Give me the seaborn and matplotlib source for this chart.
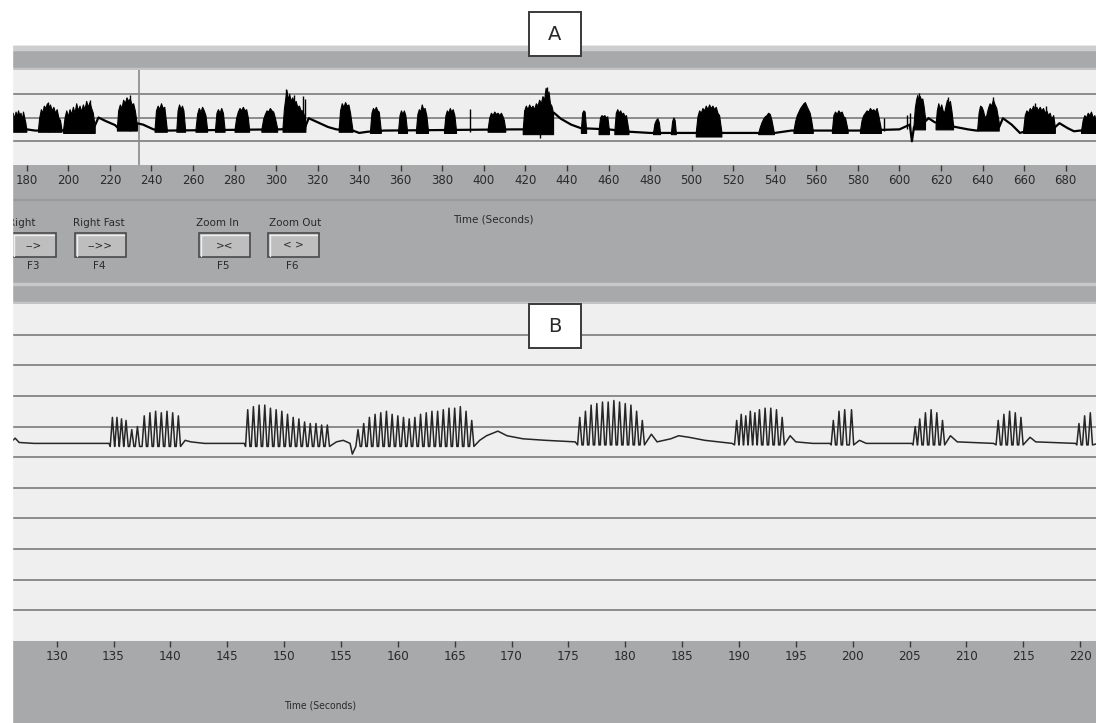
import matplotlib.pyplot as plt
from matplotlib.patches import Rectangle
import pandas as pd
import seaborn as sns

# ---- panel A: slow trace (seconds, level) ----
a_base_t = [172.7, 180, 184, 197, 212.5, 214.5, 218, 222.5, 224, 233.5, 236, 241, 248, 300, 302, 314,
            315.7, 320, 325, 329, 337, 340, 344, 352, 415, 420, 433.7, 437, 442, 446.7, 460, 470, 480,
            500, 515, 530, 540, 548, 560, 567, 580, 600, 605, 606, 607, 612, 614, 617, 627, 633, 637,
            648, 649.8, 654, 658, 660, 675, 677, 681, 684, 687, 695]
a_base_y = [1.5, 1.5, 1.45, 1.45, 1.6, 2.0, 1.85, 1.68, 1.55, 1.75, 1.7, 1.5, 1.45, 1.5, 1.5, 1.6,
            1.97, 1.8, 1.6, 1.5, 1.45, 1.35, 1.4, 1.45, 1.5, 1.5, 2.2, 1.95, 1.7, 1.55, 1.5, 1.4, 1.35,
            1.35, 1.35, 1.35, 1.35, 1.45, 1.45, 1.45, 1.45, 1.5, 1.7, 1.0, 1.6, 1.8, 1.97, 1.8, 1.6, 1.5, 1.45,
            1.6, 1.97, 1.7, 1.35, 1.4, 1.6, 1.76, 1.55, 1.42, 1.45, 1.45]

# bursts: envelope times, envelope tops, bottom level
a_burst_t = [
    [172.7, 173.3, 174, 174.6, 175.2, 175.8, 176.4, 177, 177.6, 178.2, 178.8, 179.3, 179.8],
    [185.4, 186, 186.8, 187.5, 188.2, 189, 189.7, 190.4, 191.2, 192, 192.8, 193.6, 194.4, 195.2, 196, 196.7],
    [197.5, 198.2, 199, 199.8, 200.6, 201.4, 202.2, 203, 203.8, 204.6, 205.4, 206.2, 207, 207.8, 208.6,
     209.4, 210.2, 211, 211.8, 212.7],
    [223.4, 224, 224.8, 225.6, 226.4, 227.2, 228, 228.8, 229.6, 230.4, 231.2, 232, 233],
    [241.5, 242.2, 243, 243.8, 244.6, 245.4, 246.2, 247.4],
    [252, 252.6, 253.3, 254, 254.7, 255.4, 256.2],
    [261.2, 262, 262.8, 263.6, 264.4, 265.2, 266, 266.8],
    [270.6, 271.3, 272, 272.8, 273.6, 274.4, 275.2],
    [280, 280.8, 281.6, 282.4, 283.2, 284, 284.8, 285.6, 286.4, 287],
    [292.9, 293.8, 294.6, 295.4, 296.2, 297, 297.8, 298.6, 299.4, 300.5],
    [303.1, 303.8, 304.4, 305, 305.6, 306.3, 307, 307.8, 308.6, 309.4, 310.2, 311, 311.8, 312.6, 313.4, 314.1],
    [330.1, 330.8, 331.6, 332.4, 333.2, 334, 334.8, 335.6, 336.8],
    [345.2, 345.9, 346.6, 347.3, 348, 348.7, 349.4, 350.4],
    [358.7, 359.4, 360.1, 360.8, 361.5, 362.2, 363],
    [367.3, 368, 368.7, 369.4, 370.1, 370.8, 371.5, 372.3, 373.1],
    [380.8, 381.5, 382.2, 382.9, 383.6, 384.3, 385, 385.8, 386.6],
    [401.8, 402.6, 403.4, 404.2, 405, 405.8, 406.6, 407.4, 408.2, 409, 409.6, 410.3],
    [418.7, 419.4, 420.2, 421, 421.8, 422.6, 423.4, 424.2, 425, 425.8, 426.6, 427.4, 428.2, 429, 429.7,
     430.4, 431.1, 431.8, 432.5, 433.3],
    [446.7, 447.3, 447.9, 448.5, 449.2],
    [455.2, 455.9, 456.6, 457.3, 458, 458.7, 459.4, 460.2],
    [462.8, 463.5, 464.2, 464.9, 465.6, 466.3, 467, 467.7, 468.4, 469.6],
    [481.4, 482.1, 482.8, 483.5, 484.2, 484.8],
    [490, 490.6, 491.2, 491.8, 492.4],
    [502, 502.8, 503.6, 504.4, 505.2, 506, 506.8, 507.6, 508.4, 509.2, 510, 510.8, 511.6, 512.4, 513.2, 514.3],
    [532, 532.8, 533.6, 534.4, 535.2, 536, 536.8, 537.6, 538.4, 539.6],
    [549, 549.8, 550.6, 551.4, 552.2, 553, 553.8, 554.5, 555.2, 556, 556.8, 557.5, 558.3],
    [567.5, 568.2, 569, 569.8, 570.6, 571.4, 572.2, 573, 573.8, 575.1],
    [581, 581.8, 582.6, 583.4, 584.2, 585, 585.8, 586.6, 587.4, 588.2, 589, 589.8, 591.1],
    [606.8, 607.4, 608, 608.6, 609.2, 609.8, 610.4, 611, 611.6, 612.3],
    [617.4, 618, 618.7, 619.4, 620.1, 620.8, 621.5, 622.2, 622.9, 623.6, 624.3, 625, 625.8],
    [637.4, 638.1, 638.8, 639.5, 640.2, 641, 641.8, 642.6, 643.4, 644.2, 645, 645.8, 646.6, 647.8],
    [659.5, 660.3, 661.1, 661.9, 662.7, 663.5, 664.3, 665.1, 665.9, 666.7, 667.5, 668.3, 669.1, 669.9,
     670.7, 671.5, 672.3, 673.1, 674, 674.8],
    [687.4, 688.2, 689, 689.8, 690.6, 691.4, 692.2, 693, 693.8, 694.6],
]
a_burst_top = [
    [2.0, 2.2, 1.95, 2.25, 2.05, 2.3, 2.1, 2.2, 1.9, 2.25, 2.0, 1.8, 1.5],
    [1.5, 2.0, 2.35, 2.2, 2.5, 2.4, 2.6, 2.45, 2.55, 2.3, 2.45, 2.2, 2.35, 2.0, 1.9, 1.5],
    [1.5, 2.0, 2.3, 2.05, 2.35, 2.15, 2.45, 2.2, 2.6, 2.3, 2.5, 2.25, 2.55, 2.35, 2.7, 2.45, 2.65, 2.4, 2.2, 1.6],
    [1.6, 2.3, 2.55, 2.4, 2.75, 2.6, 2.85, 2.7, 2.8, 2.55, 2.6, 2.3, 1.7],
    [1.5, 2.3, 2.5, 2.35, 2.6, 2.4, 2.45, 1.5],
    [1.5, 2.3, 2.55, 2.35, 2.5, 2.3, 1.5],
    [1.5, 2.15, 2.4, 2.25, 2.45, 2.3, 2.1, 1.5],
    [1.5, 2.2, 2.35, 2.2, 2.4, 2.2, 1.5],
    [1.5, 2.0, 2.25, 2.4, 2.3, 2.45, 2.3, 2.35, 2.0, 1.5],
    [1.5, 1.95, 2.15, 2.3, 2.25, 2.4, 2.3, 2.25, 2.0, 1.55],
    [1.6, 2.4, 2.8, 3.15, 2.75, 3.0, 2.7, 2.85, 2.6, 2.7, 2.45, 2.5, 2.3, 2.3, 2.1, 1.7],
    [1.5, 2.3, 2.6, 2.45, 2.65, 2.5, 2.55, 2.2, 1.45],
    [1.45, 2.2, 2.4, 2.3, 2.45, 2.3, 2.25, 1.45],
    [1.45, 2.1, 2.3, 2.15, 2.3, 2.1, 1.45],
    [1.45, 2.15, 2.35, 2.25, 2.55, 2.35, 2.4, 2.1, 1.45],
    [1.45, 2.1, 2.3, 2.2, 2.4, 2.25, 2.35, 2.1, 1.45],
    [1.5, 2.0, 2.2, 2.1, 2.25, 2.15, 2.2, 2.1, 2.2, 2.05, 1.9, 1.5],
    [1.5, 2.3, 2.5, 2.35, 2.55, 2.4, 2.5, 2.35, 2.6, 2.5, 2.75, 2.6, 2.9, 2.75, 3.25, 2.9, 3.1, 2.6, 2.5, 2.2],
    [1.5, 2.2, 2.3, 2.25, 1.5],
    [1.45, 2.0, 2.1, 2.05, 2.1, 2.0, 2.05, 1.45],
    [1.45, 2.2, 2.35, 2.2, 2.3, 2.15, 2.2, 2.05, 2.1, 1.45],
    [1.35, 1.75, 1.9, 1.97, 1.8, 1.35],
    [1.35, 1.85, 2.0, 1.9, 1.35],
    [1.4, 2.05, 2.3, 2.2, 2.4, 2.3, 2.5, 2.35, 2.55, 2.4, 2.5, 2.35, 2.45, 2.2, 2.1, 1.4],
    [1.35, 1.6, 1.8, 1.95, 2.05, 2.1, 2.2, 2.15, 1.9, 1.35],
    [1.45, 1.85, 2.1, 2.25, 2.4, 2.5, 2.6, 2.65, 2.5, 2.35, 2.2, 1.9, 1.45],
    [1.45, 2.1, 2.25, 2.15, 2.3, 2.2, 2.25, 2.05, 2.0, 1.45],
    [1.45, 1.9, 2.1, 2.2, 2.3, 2.25, 2.4, 2.3, 2.35, 2.25, 2.4, 2.1, 1.5],
    [1.7, 2.4, 2.75, 2.95, 2.7, 2.9, 2.75, 2.8, 2.5, 2.0],
    [1.7, 2.3, 2.6, 2.35, 2.55, 2.3, 2.2, 2.5, 2.75, 2.6, 2.7, 2.3, 1.7],
    [1.5, 2.2, 2.5, 2.45, 2.3, 2.0, 2.1, 2.4, 2.6, 2.5, 2.75, 2.55, 2.4, 1.8],
    [1.45, 2.1, 2.3, 2.2, 2.4, 2.3, 2.5, 2.35, 2.45, 2.3, 2.45, 2.3, 2.4, 2.2, 2.3, 2.1, 2.2, 1.95, 2.1, 1.6],
    [1.45, 1.9, 2.1, 2.0, 2.2, 2.1, 2.25, 2.0, 2.1, 1.8],
]
a_burst_low = [1.4, 1.4, 1.35, 1.45, 1.4, 1.4, 1.4, 1.4, 1.4, 1.4, 1.4, 1.4, 1.35, 1.35, 1.35, 1.35,
               1.4, 1.3, 1.35, 1.3, 1.3, 1.3, 1.3, 1.2, 1.3, 1.35, 1.35, 1.35, 1.5, 1.5, 1.45, 1.35, 1.35]
# isolated thin spikes (time, bottom, top)
a_spike_t = [190.4, 210.2, 229.6, 305, 308.6, 313, 314, 393.3, 427, 430.4, 592.7, 603.5, 605, 609.2,
             623.6, 645, 665.1, 670.7]
a_spike_lo = [1.4, 1.4, 1.45, 1.5, 1.5, 1.5, 1.5, 1.4, 1.12, 1.5, 1.45, 1.5, 1.5, 1.6, 1.6, 1.5, 1.4, 1.4]
a_spike_hi = [2.65, 2.75, 2.95, 3.2, 2.95, 2.9, 2.8, 2.35, 2.0, 3.3, 2.0, 2.1, 2.2, 3.05, 2.85, 2.85, 2.6, 2.5]
a_cursor = 234.2

# ---- panel B: fast trace ----
b_base_t = [126.0, 126.35, 126.7, 128, 132, 134.6, 141.3, 141.8, 143, 146.5, 154.6, 155.2, 155.8, 156.0,
            167.2, 167.8, 168.8, 169.6, 171, 173, 175.6, 182.3, 182.8, 184.0, 184.7, 185.6, 187, 189.4,
            194.5, 195.0, 196.5, 198.0, 200.6, 201.2, 205.2, 208.6, 209.2, 212.4, 215.6, 216.1, 219.6, 221.6]
b_base_y = [6.5, 6.62, 6.48, 6.45, 6.45, 6.45, 6.55, 6.5, 6.45, 6.45, 6.5, 6.55, 6.45, 6.1,
            6.55, 6.7, 6.85, 6.7, 6.6, 6.55, 6.5, 6.75, 6.5, 6.6, 6.7, 6.65, 6.55, 6.45,
            6.7, 6.5, 6.45, 6.45, 6.55, 6.45, 6.45, 6.7, 6.5, 6.45, 6.65, 6.5, 6.45, 6.45]
b_peak_t = [
    [134.9, 135.3, 135.7, 136.1, 136.6, 137.1, 137.7, 138.2, 138.7, 139.2, 139.7, 140.2, 140.7],
    [146.8, 147.3, 147.8, 148.3, 148.8, 149.3, 149.8, 150.3, 150.8, 151.3, 151.8, 152.3, 152.8, 153.3, 153.8],
    [156.5, 157.0, 157.5, 158.0, 158.5, 159.0, 159.5, 160.0, 160.5, 161.0, 161.5, 162.0, 162.5, 163.0,
     163.5, 164.0, 164.5, 165.0, 165.5, 166.0, 166.5],
    [176.0, 176.5, 177.0, 177.5, 178.0, 178.5, 179.0, 179.5, 180.0, 180.5, 181.0, 181.5],
    [189.8, 190.2, 190.6, 191.0, 191.4, 191.8, 192.3, 192.8, 193.3, 193.8],
    [198.3, 198.8, 199.3, 199.9],
    [205.5, 205.9, 206.4, 206.9, 207.4, 207.9],
    [212.8, 213.3, 213.8, 214.3, 214.8],
    [219.9, 220.4, 220.9],
]
b_peak_y = [
    [7.3, 7.3, 7.25, 7.2, 6.9, 7.0, 7.35, 7.45, 7.5, 7.45, 7.5, 7.45, 7.35],
    [7.55, 7.65, 7.7, 7.7, 7.6, 7.55, 7.5, 7.4, 7.3, 7.25, 7.15, 7.1, 7.1, 7.05, 7.05],
    [6.9, 7.1, 7.3, 7.4, 7.45, 7.5, 7.4, 7.35, 7.3, 7.25, 7.3, 7.4, 7.45, 7.5, 7.5, 7.55, 7.6, 7.6,
     7.65, 7.5, 7.2],
    [7.3, 7.5, 7.7, 7.75, 7.8, 7.8, 7.85, 7.8, 7.75, 7.7, 7.5, 7.2],
    [7.2, 7.4, 7.35, 7.5, 7.45, 7.55, 7.6, 7.6, 7.55, 7.3],
    [7.2, 7.5, 7.55, 7.55],
    [7.0, 7.25, 7.45, 7.55, 7.45, 7.2],
    [7.2, 7.4, 7.5, 7.45, 7.3],
    [7.1, 7.35, 7.45],
]
b_trough = [6.35, 6.35, 6.35, 6.4, 6.4, 6.4, 6.4, 6.4, 6.4]

a_ticks = list(range(180, 700, 20))
b_ticks = list(range(130, 225, 5))

GRAY = '#a8a9ab'
PANEL = '#efefef'
GRID = '#8c8c8c'
TXT = '#2a2a2a'

sns.set_style('white')
plt.rcParams['font.family'] = ['DejaVu Sans']

W, H = 1096, 723
fig = plt.figure(figsize=(W / 100, H / 100), dpi=100)


def px_axes(x0, y0, x1, y1):
    return fig.add_axes([x0 / W, 1 - y1 / H, (x1 - x0) / W, (y1 - y0) / H])


# background (screen chrome)
bg = px_axes(0, 0, W, H)
bg.set_xlim(0, W)
bg.set_ylim(H, 0)
bg.axis('off')
bg.add_patch(Rectangle((0, 0), W, H, color='white'))
bg.add_patch(Rectangle((12, 46), W, H - 46, color=GRAY))
bg.add_patch(Rectangle((12, 46), W, 4, color='#cdcdcd'))
bg.add_patch(Rectangle((12, 68), W, 2, color='#c4c4c4'))
bg.add_patch(Rectangle((12, 199), W, 1.2, color='#9a9b9d'))
bg.add_patch(Rectangle((12, 283), W, 2, color='#c8c8c8'))
bg.add_patch(Rectangle((12, 302), W, 2, color='#c4c4c4'))

# control buttons
buttons = [('Right', '-->', 'F3', 12, 56, 22),
           ('Right Fast', '-->>', 'F4', 75, 126, 99),
           ('Zoom In', '><', 'F5', 199, 250, 217),
           ('Zoom Out', '< >', 'F6', 268, 319, 295)]
for name, sym, key, x0, x1, xc in buttons:
    bg.add_patch(Rectangle((x0, 233), x1 - x0, 24, facecolor='#bebebe', edgecolor='#4a4a4a', lw=1.2))
    bg.plot([x0 + 1.5, x0 + 1.5, x1 - 2], [256, 234.5, 234.5], color='#efefef', lw=1)
    bg.text(xc, 223, name, ha='center', va='center', fontsize=7.5, color=TXT)
    bg.text((x0 + x1) / 2, 245, sym, ha='center', va='center', fontsize=7.5, color=TXT)
    bg.text((x0 + x1) / 2 - 1, 266, key, ha='center', va='center', fontsize=7.5, color=TXT)
bg.text(493, 219, 'Time (Seconds)', ha='center', va='center', fontsize=7.5, color=TXT)
bg.text(320, 705, 'Time (Seconds)', ha='center', va='center', fontsize=7.5, color=TXT,
        fontstretch='condensed')

# ---- panel A ----
ax_a = px_axes(12, 70, W, 165)
ax_a.set_facecolor(PANEL)
ax_a.set_xlim(172.9, 694.6)
ax_a.set_ylim(0, 4)
for g in [1, 2, 3]:
    ax_a.axhline(g, color=GRID, lw=1.4, zorder=1)
ax_a.axvline(a_cursor, color='#8a8a8a', lw=1.2, zorder=1)
sns.lineplot(x=a_base_t, y=a_base_y, ax=ax_a, color='black', lw=1.6, estimator=None, zorder=3)
for bt, btop, low in zip(a_burst_t, a_burst_top, a_burst_low):
    ax_a.fill_between(bt, low, btop, color='black', lw=0.8, zorder=3)
ax_a.vlines(a_spike_t, a_spike_lo, a_spike_hi, color='black', lw=1, zorder=3)

# ---- panel B ----
ax_b = px_axes(12, 304, W, 641)
ax_b.set_facecolor(PANEL)
ax_b.set_xlim(126.07, 221.4)
ax_b.set_ylim(0, 11)
for g in range(1, 11):
    ax_b.axhline(g, color=GRID, lw=1.4, zorder=1)

w = 0.19
rows = list(zip(b_base_t, b_base_y))
for pts, hts, tr in zip(b_peak_t, b_peak_y, b_trough):
    for p, h in zip(pts, hts):
        rows += [(p - w, tr), (p, h), (p + w, tr)]
df_b = pd.DataFrame(rows, columns=['t', 'v']).sort_values('t')
sns.lineplot(data=df_b, x='t', y='v', ax=ax_b, color='#262626', lw=1.1, estimator=None, sort=False, zorder=3)

for ax, ticks in [(ax_a, a_ticks), (ax_b, b_ticks)]:
    ax.set_xticks(ticks)
    ax.set_yticks([])
    ax.set_xlabel('')
    ax.set_ylabel('')
    for s in ax.spines.values():
        s.set_visible(False)
    ax.tick_params(axis='x', direction='out', length=4, width=1, color='#3a3a3a', pad=2.5,
                   labelsize=8.5, labelcolor=TXT, bottom=True)
for lab in ax_b.get_xticklabels():
    lab.set_fontstretch('condensed')
    lab.set_fontsize(9.5)

# overlay: left margin and A/B boxes
ov = px_axes(0, 0, W, H)
ov.set_xlim(0, W)
ov.set_ylim(H, 0)
ov.axis('off')
ov.patch.set_alpha(0)
ov.add_patch(Rectangle((0, 0), 12, H, color='white'))
for label, y0 in [('A', 12), ('B', 304)]:
    ov.add_patch(Rectangle((529, y0), 52, 44, facecolor='white', edgecolor='#3a3a3a', lw=1.4))
    ov.text(555, y0 + 22, label, ha='center', va='center', fontsize=14, color=TXT)

fig.savefig('out.png', dpi=100)
